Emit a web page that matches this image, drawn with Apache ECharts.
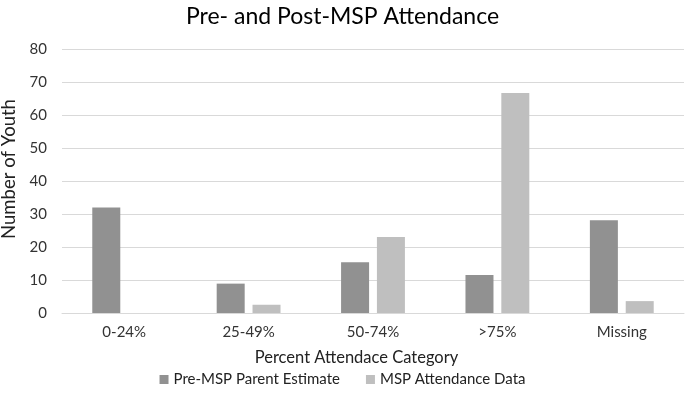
<!DOCTYPE html>
<html><head><meta charset="utf-8">
<script src="https://cdn.jsdelivr.net/npm/echarts@6/dist/echarts.min.js"></script>
<style>html,body{margin:0;padding:0;background:#fff}#c{width:685px;height:417px}</style>
</head><body><div id="c"></div>
<script>
const categories = ['0-24%', '25-49%', '50-74%', '>75%', 'Missing'];
const preMSP = [32, 8.9, 15.4, 11.5, 28.1];
const mspData = [0, 2.5, 23, 66.7, 3.6];
const yTicks = { min: 0, max: 80, interval: 10 };
const FONT = 'Lato';
const chart = echarts.init(document.getElementById('c'));
chart.setOption({
  animation: false,
  textStyle: { fontFamily: FONT },
  title: { text: 'Pre- and Post-MSP Attendance', left: 'center', top: 0,
    textStyle: { fontFamily: FONT, fontSize: 23, fontWeight: 'normal', color: '#000' } },
  legend: { bottom: 25, left: 'center', itemWidth: 9, itemHeight: 9, itemGap: 26,
    icon: 'rect', textStyle: { fontFamily: FONT, fontSize: 15, color: '#222' } },
  grid: { left: 62, right: 1, top: 49, bottom: 104, containLabel: false, outerBoundsMode: 'none' },
  xAxis: { type: 'category', data: categories,
    name: 'Percent Attendace Category', nameLocation: 'middle', nameGap: 36,
    nameTextStyle: { fontFamily: FONT, fontSize: 16.5, color: '#222', padding: [0, 33, 0, 0] },
    axisLine: { lineStyle: { color: '#d9d9d9' } }, axisTick: { show: false },
    axisLabel: { fontFamily: FONT, fontSize: 15, color: '#333', margin: 12 } },
  yAxis: { type: 'value', min: yTicks.min, max: yTicks.max, interval: yTicks.interval,
    name: 'Number of Youth', nameLocation: 'middle', nameGap: 41,
    nameTextStyle: { fontFamily: FONT, fontSize: 18.5, color: '#222', padding: [0, 0, 0, 24] },
    axisLine: { show: false }, axisTick: { show: false },
    splitLine: { lineStyle: { color: '#d9d9d9', width: 1 } },
    axisLabel: { fontFamily: FONT, fontSize: 15, color: '#333', margin: 15 } },
  series: [
    { name: 'Pre-MSP Parent Estimate', type: 'bar', data: preMSP, barWidth: 28, barGap: '28%',
      itemStyle: { color: '#919191' } },
    { name: 'MSP Attendance Data', type: 'bar', data: mspData, barWidth: 28,
      itemStyle: { color: '#bfbfbf' } }
  ]
});
</script></body></html>
